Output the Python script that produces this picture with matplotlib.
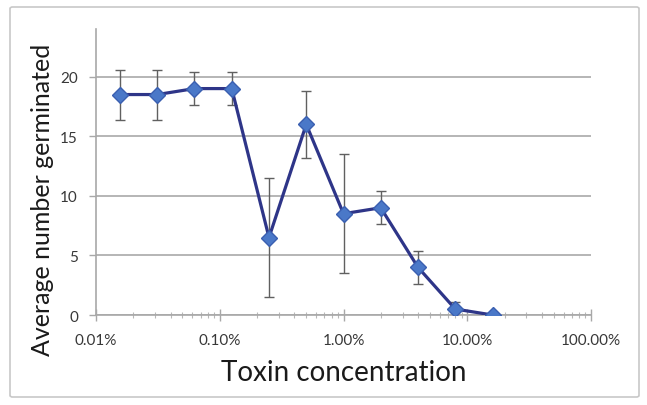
import matplotlib
matplotlib.use("Agg")
import matplotlib.pyplot as plt
import matplotlib.ticker as mticker
from matplotlib.patches import FancyBboxPatch

# Data (concentration in %, mean germinated, error)
concentration = [0.015625, 0.03125, 0.0625, 0.125, 0.25, 0.5, 1, 2, 4, 8, 16]
germinated = [18.5, 18.5, 19, 19, 6.5, 16, 8.5, 9, 4, 0.5, 0]
errors = [2.1, 2.1, 1.4, 1.4, 5.0, 2.8, 5.0, 1.4, 1.4, 0.6, 0.0]
x_ticks = [0.01, 0.1, 1, 10, 100]
x_tick_labels = ["0.01%", "0.10%", "1.00%", "10.00%", "100.00%"]
y_ticks = [0, 5, 10, 15, 20]

plt.rcParams['font.family'] = ['Lato', 'DejaVu Sans']

W, H = 647, 406
fig = plt.figure(figsize=(W / 100, H / 100), dpi=100)

# outer border
border = FancyBboxPatch((10 / W, 1 - 398 / H), (639 - 10) / W, (398 - 8) / H,
                        boxstyle="round,pad=0,rounding_size=0.004",
                        transform=fig.transFigure, fill=False,
                        edgecolor="#c8c8c8", linewidth=1.2)
fig.patches.append(border)

ax = fig.add_axes([96 / W, 1 - 316 / H, (591 - 96) / W, (316 - 30) / H])
ax.set_xscale("log")
ax.set_xlim(0.01, 100)
ax.set_ylim(0, 24)

ax.grid(axis="y", color="#b0b0b0", linewidth=1.3)
ax.set_axisbelow(True)

ax.errorbar(concentration, germinated, yerr=errors, fmt="none",
            ecolor="#606060", elinewidth=1.0, capsize=3.5, capthick=1.0, zorder=2)
ax.plot(concentration, germinated, color="#2e3588", linewidth=2.3, zorder=3,
        marker="D", markersize=8.5, markerfacecolor="#4a78c8",
        markeredgecolor="#3a5fb0", markeredgewidth=1.0)

for s in ["top", "right"]:
    ax.spines[s].set_visible(False)
for s in ["left", "bottom"]:
    ax.spines[s].set_color("#a8a8a8")
    ax.spines[s].set_linewidth(1.2)

ax.set_xticks(x_ticks)
ax.set_xticklabels(x_tick_labels)
ax.xaxis.set_minor_locator(mticker.LogLocator(base=10, subs=range(2, 10)))
ax.xaxis.set_minor_formatter(mticker.NullFormatter())
ax.tick_params(axis="x", which="major", direction="inout", length=8, width=1.0,
               color="#a8a8a8", labelsize=11, pad=9, labelcolor="#383838")
ax.tick_params(axis="x", which="minor", direction="inout", length=4, width=0.8,
               color="#b8b8b8")
ax.set_yticks(y_ticks)
ax.tick_params(axis="y", which="major", direction="out", length=5, width=1.0,
               color="#a8a8a8", labelsize=11, pad=8, labelcolor="#383838")

fig.text(344 / W, 1 - 373 / H, "Toxin concentration", fontsize=20,
         color="#1a1a1a", ha="center", va="center")
fig.text(43 / W, 1 - 200 / H, "Average number germinated", fontsize=18,
         color="#1a1a1a", ha="center", va="center", rotation=90)

fig.savefig("out.png", dpi=100)
